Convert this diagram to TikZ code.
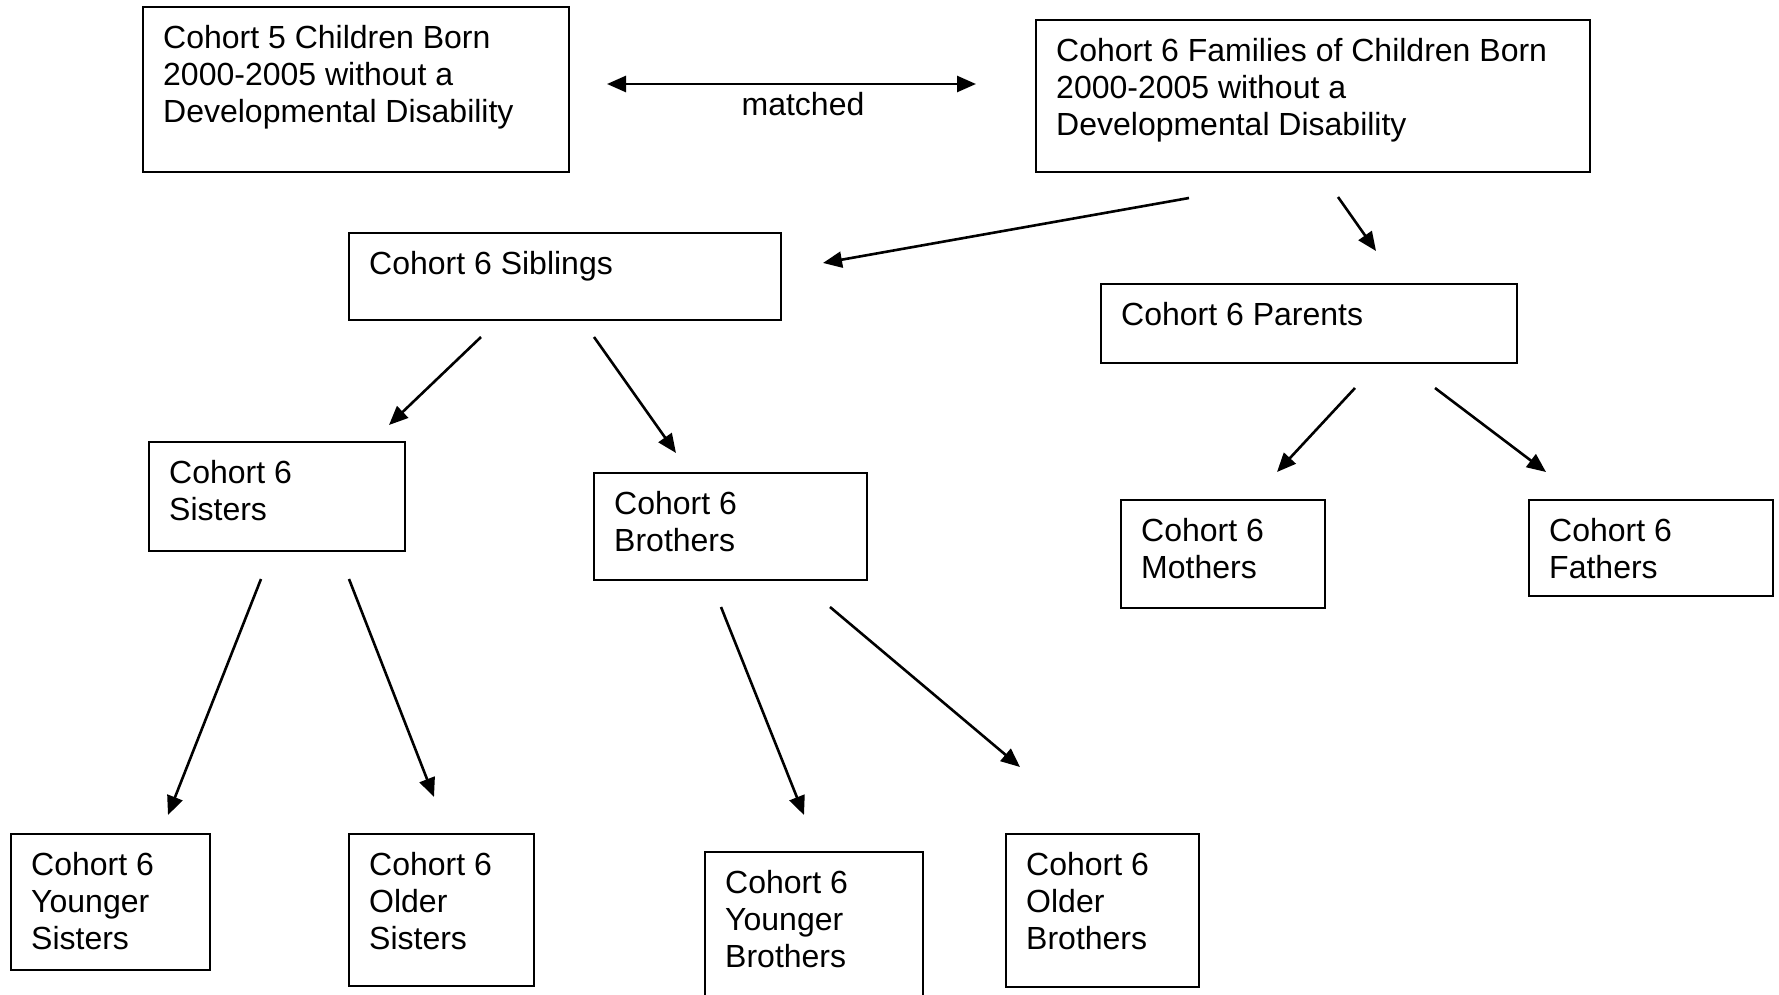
\documentclass[tikz,border=0pt]{standalone}
\usepackage{fontspec}
\setmainfont{Liberation Sans}
\usetikzlibrary{arrows.meta,calc}

\tikzset{
  box/.style={draw=black, line width=2.7pt, inner sep=0pt, outer sep=0pt, anchor=north west},
  boxtext/.style={anchor=north west, inner sep=0pt, align=left,
                  font=\fontsize{32}{36.7}\selectfont},
  tip/.style={},
  link/.style={line width=2.6pt, -{Triangle[length=19pt,width=16pt]}},
  twoway/.style={line width=2.6pt, {Triangle[length=19pt,width=16pt]}-{Triangle[length=19pt,width=16pt]}},
}

% #1 name, #2 left, #3 top, #4 right, #5 bottom, #6 text
\newcommand\cohortbox[6]{%
  \node[box, minimum width={#4pt-#2pt}, minimum height={#5pt-#3pt}] (#1) at (#2,#3) {};
  \node[boxtext] (#1-text) at ($(#1.north west)+(20,18.5)$) {#6};
}

\begin{document}
\begin{tikzpicture}[x=1pt, y=-1pt]
  \fill[white] (0,0) rectangle (1779,995);
  \useasboundingbox (0,0) rectangle (1779,995);
  \clip (0,0) rectangle (1779,995);

  % boxes
  \cohortbox{c5}{143}{7}{569}{172}{Cohort 5 Children Born\\2000-2005 without a\\Developmental Disability}
  \cohortbox{fam}{1036}{20}{1590}{172}{Cohort 6 Families of Children Born\\2000-2005 without a\\Developmental Disability}
  \cohortbox{sib}{349}{233}{781}{320}{Cohort 6 Siblings}
  \cohortbox{par}{1101}{284}{1517}{363}{Cohort 6 Parents}
  \cohortbox{sis}{149}{442}{405}{551}{Cohort 6\\Sisters}
  \cohortbox{bro}{594}{473}{867}{580}{Cohort 6\\Brothers}
  \cohortbox{mot}{1121}{500}{1325}{608}{Cohort 6\\Mothers}
  \cohortbox{fat}{1529}{500}{1773}{596}{Cohort 6\\Fathers}
  \cohortbox{ysis}{11}{834}{210}{970}{Cohort 6\\Younger\\Sisters}
  \cohortbox{osis}{349}{834}{534}{986}{Cohort 6\\Older\\Sisters}
  \cohortbox{ybro}{705}{852}{923}{1012}{Cohort 6\\Younger\\Brothers}
  \cohortbox{obro}{1006}{834}{1199}{987}{Cohort 6\\Older\\Brothers}

  % connector end points
  \coordinate (m1) at (607,84);    \coordinate (m2) at (976,84);
  \coordinate (fs1) at (1189,198); \coordinate (fs2) at (823,263);
  \coordinate (fp1) at (1338,197); \coordinate (fp2) at (1376,251);
  \coordinate (ss1) at (481,337);  \coordinate (ss2) at (389,425);
  \coordinate (sb1) at (594,337);  \coordinate (sb2) at (676,453);
  \coordinate (pm1) at (1355,388); \coordinate (pm2) at (1277,472);
  \coordinate (pf1) at (1435,388); \coordinate (pf2) at (1546,472);
  \coordinate (sy1) at (261,579);  \coordinate (sy2) at (168,815);
  \coordinate (so1) at (349,579);  \coordinate (so2) at (434,797);
  \coordinate (by1) at (721,607);  \coordinate (by2) at (804,815);
  \coordinate (bo1) at (830,607);  \coordinate (bo2) at (1020,767);

  % connectors
  \draw[twoway] (m1) -- (m2);
  \node[anchor=base, inner sep=0pt, font=\fontsize{32}{36.7}\selectfont] (matched) at (803,116) {matched};
  \draw[link] (fs1) -- (fs2);
  \draw[link] (fp1) -- (fp2);
  \draw[link] (ss1) -- (ss2);
  \draw[link] (sb1) -- (sb2);
  \draw[link] (pm1) -- (pm2);
  \draw[link] (pf1) -- (pf2);
  \draw[link] (sy1) -- (sy2);
  \draw[link] (so1) -- (so2);
  \draw[link] (by1) -- (by2);
  \draw[link] (bo1) -- (bo2);
\end{tikzpicture}
\end{document}
